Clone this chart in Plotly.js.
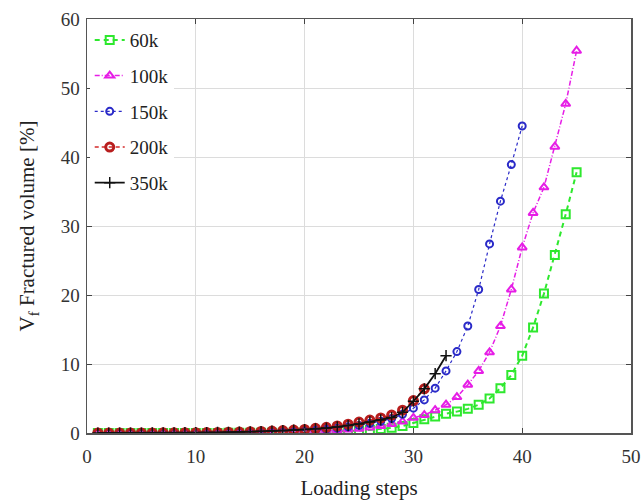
<!DOCTYPE html>
<html>
<head>
<meta charset="utf-8">
<script src="https://cdn.plot.ly/plotly-3.0.1.min.js"></script>
<style>html,body{margin:0;padding:0;background:#fff;}#chart{width:644px;height:503px;}</style>
</head>
<body>
<div id="chart"></div>
<script>
// Loading steps
var steps60 = [];
for (var i = 1; i <= 45; i++) steps60.push(i);
var steps100 = steps60.slice();
var steps150 = steps60.slice(0, 40);
var steps200 = steps60.slice(0, 31);
var steps350 = steps60.slice(0, 33);

var v60 = [0,0,0,0,0,0,0,0,0,0.01,
  0.01,0.01,0.02,0.02,0.03,0.03,0.04,0.05,0.07,0.1,
  0.13,0.17,0.22,0.28,0.35,0.45,0.58,0.75,1.0,1.45,
  2.0,2.4,2.8,3.1,3.5,4.1,5.0,6.5,8.4,11.2,
  15.3,20.2,25.8,31.7,37.8];
var v100 = [0,0,0,0,0,0,0,0.01,0.01,0.02,
  0.02,0.03,0.04,0.05,0.07,0.09,0.12,0.15,0.2,0.25,
  0.3,0.35,0.4,0.5,0.6,0.8,1.0,1.3,1.65,2.2,
  2.6,3.3,4.1,5.2,7.0,9.0,11.7,15.5,20.8,26.9,
  31.9,35.6,41.5,47.7,55.4];
var v150 = [0,0,0,0,0,0.01,0.01,0.02,0.03,0.04,
  0.05,0.06,0.08,0.1,0.12,0.15,0.18,0.22,0.27,0.32,
  0.4,0.55,0.7,0.9,1.1,1.4,1.7,2.1,2.7,3.6,
  4.8,6.5,9.0,11.8,15.5,20.8,27.4,33.6,38.9,44.5];
var v200 = [0,0,0,0,0,0.01,0.02,0.03,0.04,0.05,
  0.07,0.09,0.11,0.14,0.18,0.22,0.28,0.35,0.43,0.52,
  0.68,0.82,1.02,1.28,1.58,1.88,2.18,2.6,3.3,4.7,
  6.4];
var v350 = [0,0,0,0,0,0.01,0.02,0.03,0.04,0.05,
  0.07,0.09,0.11,0.14,0.18,0.22,0.28,0.35,0.42,0.5,
  0.6,0.72,0.88,1.08,1.32,1.6,1.9,2.25,3.0,4.6,
  6.4,8.6,11.2];

var names = ["60k","100k","150k","200k","350k"];

var traces = [
  {x: steps60, y: v60, name: names[0], legendgroup: "a", mode: "lines+markers",
   line: {color: "#2ee82e", width: 2, dash: "5px,4px"},
   marker: {symbol: "square-open", size: 8, color: "#2ee82e", line: {width: 2}}},
  {x: steps100, y: v100, name: names[1], legendgroup: "b", mode: "lines+markers",
   line: {color: "#e61ee6", width: 1.5, dash: "5px,2px,1px,2px"},
   marker: {symbol: "triangle-up-open", size: 8, color: "#e61ee6", line: {width: 2}}},
  {x: steps150, y: v150, name: names[2], legendgroup: "c", mode: "lines+markers",
   line: {color: "#2a2ac8", width: 1.2, dash: "dot"},
   marker: {symbol: "circle-open", size: 7, color: "#2a2ac8", line: {width: 2}}},
  {x: steps200, y: v200, name: names[3], legendgroup: "d", mode: "lines+markers",
   line: {color: "#d42a2a", width: 1.5, dash: "4px,3px"},
   marker: {symbol: "circle-open", size: 8, color: "#b81e1e", line: {width: 3}}},
  {x: steps350, y: v350, name: names[4], legendgroup: "e", mode: "lines+markers",
   line: {color: "#111111", width: 1.8},
   marker: {symbol: "cross-thin-open", size: 8, color: "#111111", line: {width: 1.5}}}
];

var axisCommon = {
  showline: true, mirror: "ticks", linecolor: "#555", linewidth: 1.5,
  ticks: "inside", ticklen: 5, tickcolor: "#444",
  showgrid: true, gridcolor: "#dcdcdc", gridwidth: 1,
  zeroline: false,
  tickfont: {family: "Liberation Serif, serif", size: 19, color: "#333"}
};

var layout = {
  width: 644, height: 503,
  margin: {l: 87, r: 13, t: 19, b: 70},
  paper_bgcolor: "#fff", plot_bgcolor: "#fff",
  font: {family: "Liberation Serif, serif", color: "#222"},
  xaxis: Object.assign({}, axisCommon, {
    range: [0, 50], tickvals: [0,10,20,30,40,50], ticklabelstandoff: 6,
    title: {text: "Loading steps", font: {family: "Liberation Serif, serif", size: 21, color: "#222"}, standoff: 14}
  }),
  yaxis: Object.assign({}, axisCommon, {
    range: [0, 60], tickvals: [0,10,20,30,40,50,60], ticklabelstandoff: 2,
    title: {text: "V<sub>f</sub> Fractured volume [%]", font: {family: "Liberation Serif, serif", size: 21, color: "#222"}, standoff: 20}
  }),
  legend: {
    x: 0.005, y: 0.995, xanchor: "left", yanchor: "top",
    bgcolor: "rgba(255,255,255,1)", borderwidth: 0,
    font: {family: "Liberation Serif, serif", size: 19, color: "#222"},
    itemwidth: 30, tracegroupgap: 8
  },
  showlegend: true
};

Plotly.newPlot("chart", traces, layout, {displayModeBar: false, staticPlot: true});
</script>
</body>
</html>
